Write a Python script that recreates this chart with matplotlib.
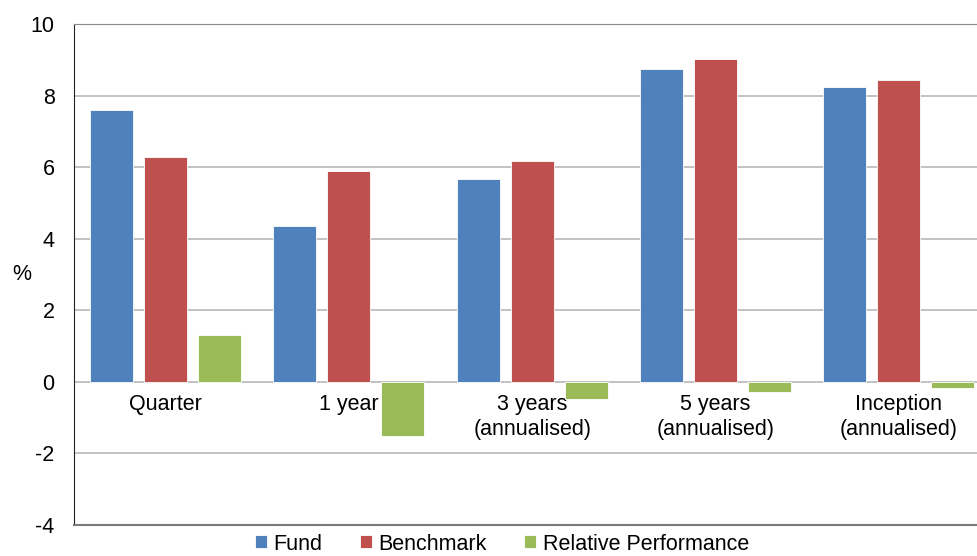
import matplotlib
matplotlib.use('Agg')
import matplotlib.pyplot as plt
import numpy as np

plt.rcParams['font.family'] = ['Liberation Sans', 'DejaVu Sans']

categories = ['Quarter', '1 year', '3 years\n(annualised)', '5 years\n(annualised)',
              'Inception\n(annualised)']
fund = [7.61, 4.36, 5.66, 8.73, 8.24]
benchmark = [6.27, 5.90, 6.17, 9.03, 8.43]
relative = [1.32, -1.52, -0.48, -0.28, -0.18]

series = [('Fund', fund, '#4F81BD'),
          ('Benchmark', benchmark, '#C0504D'),
          ('Relative Performance', relative, '#9BBB59')]

fig = plt.figure(figsize=(9.78, 5.56), dpi=100)
ax = fig.add_axes([74 / 978, 31 / 556, 916.5 / 978, 501 / 556])

x = np.arange(len(categories))
step = 0.2946
width = 0.2346
for i, (name, vals, col) in enumerate(series):
    ax.bar(x + (i - 1) * step, vals, width, color=col, edgecolor='white',
           linewidth=0.6, label=name, zorder=3)

ax.set_xlim(-0.5, len(categories) - 0.5)
ax.set_ylim(-4, 10)
ax.set_yticks(np.arange(-4, 11, 2))
ax.set_yticklabels([str(v) for v in range(-4, 11, 2)], fontsize=15.5)
ax.tick_params(axis='y', length=0, pad=14)
ax.set_xticks([])
ax.yaxis.grid(True, color='#b8b8b8', linewidth=1.2, zorder=0)
ax.set_axisbelow(True)

ax.spines['right'].set_visible(False)
ax.spines['left'].set_color('#222222')
ax.spines['top'].set_color('#8a8a8a')
ax.spines['bottom'].set_color('#7a7a7a')
ax.spines['bottom'].set_linewidth(1.5)

for xi, lab in zip(x, categories):
    ax.text(xi, -0.35, lab, ha='center', va='top', fontsize=15.5,
            linespacing=1.2, zorder=2)

fig.text(22 / 978, 1 - 275 / 556, '%', ha='center', va='center', fontsize=15.5)

# legend sits right at the bottom edge, as in the source
fig.legend(loc='center', bbox_to_anchor=(502 / 978, 1 - 544 / 556), ncol=3,
           frameon=False, fontsize=15.5, handlelength=0.55, handleheight=0.55,
           handletextpad=0.3, columnspacing=1.75, borderpad=0.1)

fig.savefig('out.png', dpi=100)
